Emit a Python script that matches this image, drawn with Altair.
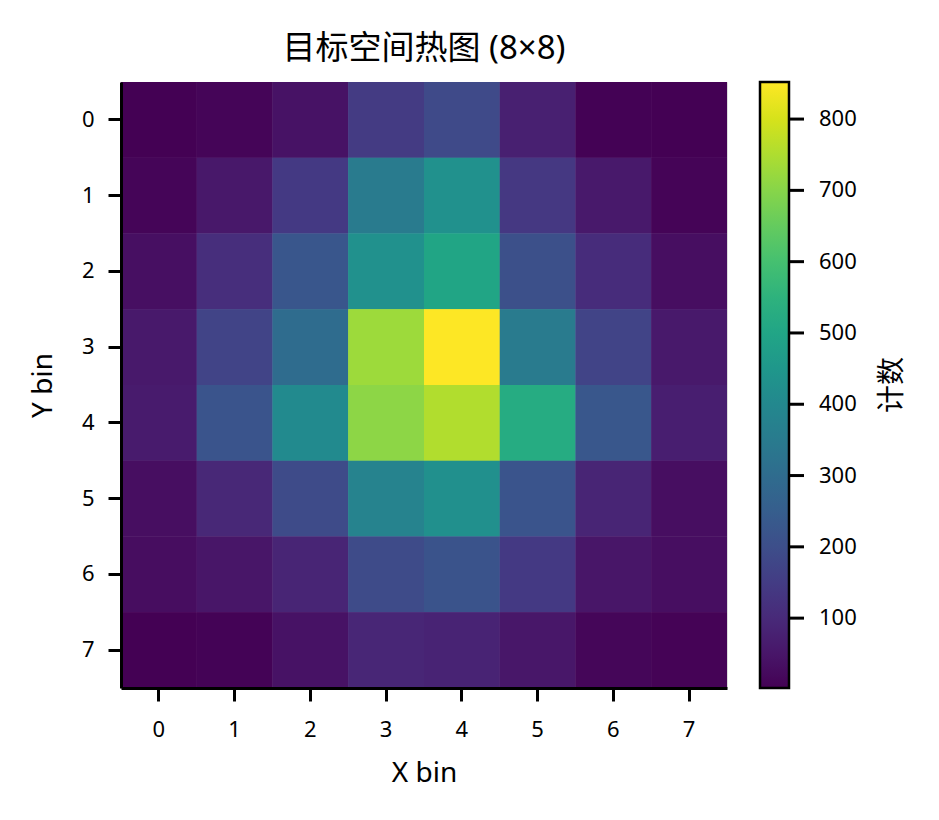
import altair as alt
import pandas as pd

# ---- data ----
x_bins = [0, 1, 2, 3, 4, 5, 6, 7]
y_bins = [0, 1, 2, 3, 4, 5, 6, 7]

row0 = [2, 10, 40, 147, 189, 74, 4, 3]
row1 = [10, 53, 142, 350, 427, 138, 57, 9]
row2 = [32, 112, 227, 427, 503, 206, 108, 31]
row3 = [56, 172, 300, 729, 852, 350, 172, 56]
row4 = [61, 223, 406, 707, 754, 525, 231, 70]
row5 = [30, 95, 193, 380, 423, 223, 87, 31]
row6 = [28, 49, 87, 193, 219, 142, 49, 30]
row7 = [2, 6, 40, 91, 83, 51, 12, 7]
rows = [row0, row1, row2, row3, row4, row5, row6, row7]

colorbar_ticks = [100, 200, 300, 400, 500, 600, 700, 800]

title_text = "目标空间热图 (8×8)"
x_title = "X bin"
y_title = "Y bin"
legend_title = ["计数"]

# ---- build table ----
records = []
for yb in y_bins:
    for xb in x_bins:
        records.append({"x": xb, "y": yb, "count": rows[yb][xb]})
df = pd.DataFrame(records)
vmin = min(min(r) for r in rows)
vmax = max(max(r) for r in rows)

FONT = "Noto Sans, Noto Sans CJK SC, sans-serif"
W = 606
H = 606
CB_OFFSET = 33
CB_THICK = 29

color_scale = alt.Scale(scheme="viridis", domain=[vmin, vmax], nice=False, zero=False)

heat = alt.Chart(df).mark_rect().encode(
    x=alt.X(
        "x:O",
        title=x_title,
        scale=alt.Scale(paddingInner=0, paddingOuter=0),
        axis=alt.Axis(
            labelAngle=0, tickSize=13, tickWidth=3, tickColor="black",
            domainWidth=3, domainColor="black", grid=False,
            labelFontSize=22, labelPadding=18, labelFont=FONT, labelColor="black",
            titleFontSize=28, titleFontWeight="normal", titlePadding=19,
            titleFont=FONT, titleColor="black",
        ),
    ),
    y=alt.Y(
        "y:O",
        title=y_title,
        scale=alt.Scale(paddingInner=0, paddingOuter=0),
        axis=alt.Axis(
            tickSize=13, tickWidth=3, tickColor="black",
            domainWidth=3, domainColor="black", grid=False,
            labelFontSize=22, labelPadding=14, labelFont=FONT, labelColor="black",
            titleFontSize=28, titleFontWeight="normal", titlePadding=24,
            titleFont=FONT, titleColor="black",
        ),
    ),
    color=alt.Color(
        "count:Q",
        scale=color_scale,
        legend=alt.Legend(
            title=None,
            orient="right",
            offset=CB_OFFSET,
            padding=0,
            gradientLength=H,
            gradientThickness=CB_THICK,
            gradientStrokeColor="black",
            gradientStrokeWidth=2.5,
            values=colorbar_ticks,
            labelOffset=30,
            labelFontSize=22,
            labelFont=FONT,
            labelColor="black",
        ),
    ),
)

# drawn twice (shared scales) so anti-aliased seams between cells disappear
heat_layer = alt.layer(heat, heat)

cb_ticks = alt.Chart(pd.DataFrame({"v": colorbar_ticks})).mark_rule(
    color="black", strokeWidth=3
).encode(
    y=alt.Y("v:Q", scale=alt.Scale(domain=[vmin, vmax], nice=False, zero=False), axis=None),
    x=alt.value(W + CB_OFFSET + CB_THICK + 1),
    x2=alt.value(W + CB_OFFSET + CB_THICK + 15),
)

cb_title = alt.Chart(pd.DataFrame({"t": legend_title})).mark_text(
    angle=270, fontSize=28, font=FONT, color="black", align="center", baseline="middle"
).encode(
    text="t:N",
    x=alt.value(772),
    y=alt.value(H / 2),
)

chart = (
    alt.layer(heat_layer, cb_ticks, cb_title)
    .resolve_scale(y="independent")
    .properties(
        width=W,
        height=H,
        title=alt.Title(
            text=title_text, fontSize=33, fontWeight="normal", font=FONT,
            color="black", offset=-10, baseline="alphabetic", anchor="middle",
        ),
        autosize=alt.AutoSizeParams(type="none"),
        padding={"left": 113, "top": 74, "right": 200, "bottom": 118},
    )
    .configure_view(strokeWidth=0)
    .configure(background="white")
)

chart.save("out.html", embed_options={"renderer": "svg", "actions": False})
